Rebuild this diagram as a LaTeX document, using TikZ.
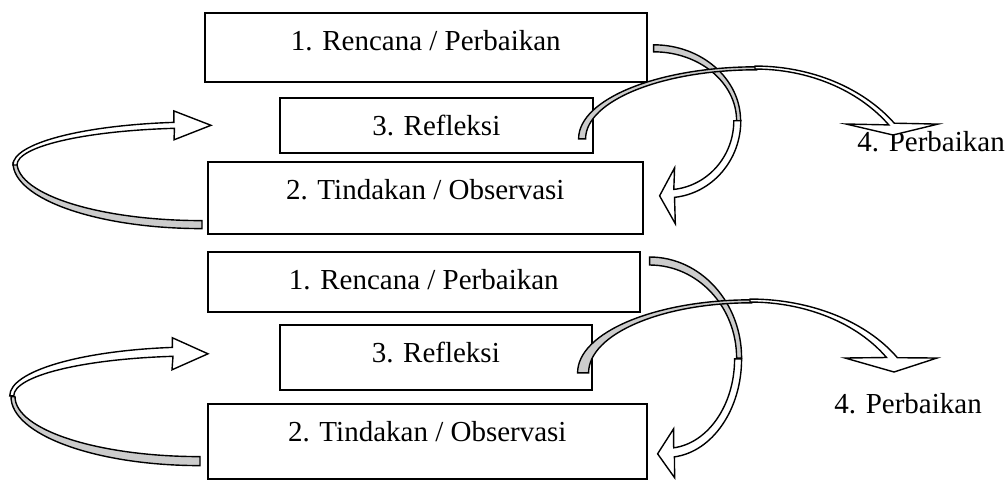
\documentclass[tikz,border=0pt]{standalone}
\usepackage{fontspec}
\setmainfont{Liberation Serif}
\usetikzlibrary{calc}
\tikzset{
  stage/.style={draw, fill=white, line width=.8pt, inner sep=0pt, anchor=north west,
    text height=19pt, text depth=#1, font=\fontsize{14.5}{17}\selectfont},
  steplabel/.style={inner sep=0pt, anchor=base west, font=\fontsize{14.5}{17}\selectfont},
  backband/.style={draw, fill=gray!40, line width=.7pt},
  frontband/.style={draw, fill=white, line width=.7pt},
}

\begin{document}
\begin{tikzpicture}[x=0.5pt,y=-0.5pt]
  \useasboundingbox (0,0) rectangle (1008,479);
  % first cycle
  \node[stage=15.5pt, minimum width=221pt] (rencanaA) at (204,12) {1. Rencana / Perbaikan};
  \node[stage=8.5pt, minimum width=156.5pt] (refleksiA) at (279,97) {3. Refleksi};
  \node[stage=17pt, minimum width=217.5pt] (tindakanA) at (207,161) {2. Tindakan / Observasi};
  \node[steplabel] (perbaikanA) at (857,151) {4. Perbaikan};
  % second cycle
  \node[stage=11pt, minimum width=216pt] (rencanaB) at (207,251) {1. Rencana / Perbaikan};
  \node[stage=13.5pt, minimum width=156pt] (refleksiB) at (279,324) {3. Refleksi};
  \node[stage=18.5pt, minimum width=219.5pt] (tindakanB) at (207,403) {2. Tindakan / Observasi};
  \node[steplabel] (perbaikanB) at (834,413) {4. Perbaikan};

  \coordinate (tailA1) at ($(tindakanA.south west)+(-5,-6)$);
  \coordinate (headA1) at ($(refleksiA.west)+(-68,0)$);
  \coordinate (tailB1) at ($(rencanaA.east)+(6,-2.5)$);
  \coordinate (headB1) at ($(tindakanA.east)+(16,-2)$);
  \coordinate (tailC1) at ($(refleksiA.east)+(-15,13.5)$);
  \coordinate (headC1) at ($(perbaikanA.base west)+(36,-16)$);
  \coordinate (tailA2) at ($(tindakanB.south west)+(-7,-14)$);
  \coordinate (headA2) at ($(refleksiB.west)+(-71,-3.5)$);
  \coordinate (tailB2) at ($(rencanaB.north east)+(9,6)$);
  \coordinate (headB2) at ($(tindakanB.east)+(10,12.5)$);
  \coordinate (tailC2) at ($(refleksiB.east)+(-15,15.5)$);
  \coordinate (headC2) at ($(perbaikanB.base west)+(60,-41)$);

  % left loops: tindakan -> refleksi
  \draw[backband] (tailA1) arc[start angle=90, end angle=180, x radius=189, y radius=66]
    -- ++(4,0) arc[start angle=180, end angle=90, x radius=185, y radius=58] -- cycle;
  \draw[frontband] (headA1) -- ++(-37,14.5) -- ++(0.5,-11.5)
    arc[start angle=262, end angle=180, x radius=183, y radius=37] -- ++(-4,0)
    arc[start angle=180, end angle=262, x radius=187, y radius=43] -- ++(0,-11.4) -- cycle;
  \draw[backband] (tailA2) arc[start angle=90, end angle=180, x radius=189, y radius=69]
    -- ++(4,0) arc[start angle=180, end angle=90, x radius=185, y radius=60] -- cycle;
  \draw[frontband] (headA2) -- ++(-36,16) -- ++(1,-13.5)
    arc[start angle=262, end angle=180, x radius=185, y radius=40] -- ++(-4,0)
    arc[start angle=180, end angle=262, x radius=189, y radius=49] -- ++(0,-9.6) -- cycle;

  % right loops: rencana -> tindakan
  \draw[backband] (tailB1) arc[start angle=270, end angle=360, x radius=87, y radius=76]
    -- ++(-4,0) arc[start angle=360, end angle=270, x radius=83, y radius=69] -- cycle;
  \draw[frontband] (headB1) -- ++(15,-28) -- ++(-0.8,21.6)
    arc[start angle=84, end angle=0, x radius=67, y radius=69] -- ++(7,0)
    arc[start angle=0, end angle=84, x radius=74, y radius=77] -- ++(0.8,26.4) -- cycle;
  \draw[backband] (tailB2) arc[start angle=270, end angle=360, x radius=92, y radius=101]
    -- ++(-5,0) arc[start angle=360, end angle=270, x radius=87, y radius=93] -- cycle;
  \draw[frontband] (headB2) -- ++(16,-25) -- ++(0.1,19)
    arc[start angle=84, end angle=0, x radius=68, y radius=89.5] -- ++(7,0)
    arc[start angle=0, end angle=84, x radius=75, y radius=98.6] -- ++(0.2,20.9) -- cycle;

  % refleksi -> perbaikan
  \draw[backband] (tailC1) arc[start angle=180, end angle=270, x radius=178, y radius=72]
    -- ++(0,3) arc[start angle=270, end angle=180, x radius=171, y radius=69] -- cycle;
  \draw[frontband] (headC1) -- ++(-47,-11) -- ++(42.8,0.9)
    arc[start angle=325, end angle=270, x radius=163.3, y radius=131] -- ++(0,-3)
    arc[start angle=270, end angle=325, x radius=170, y radius=134] -- ++(43.7,0.9) -- cycle;
  \draw[backband] (tailC2) arc[start angle=180, end angle=270, x radius=174, y radius=73]
    -- ++(0,3) arc[start angle=270, end angle=180, x radius=163, y radius=70] -- cycle;
  \draw[frontband] (headC2) -- ++(-49,-14) -- ++(41.5,-0.5)
    arc[start angle=328, end angle=270, x radius=161, y radius=118] -- ++(0,-3)
    arc[start angle=270, end angle=329, x radius=172, y radius=121] -- ++(39.6,0.3) -- cycle;
\end{tikzpicture}
\end{document}
